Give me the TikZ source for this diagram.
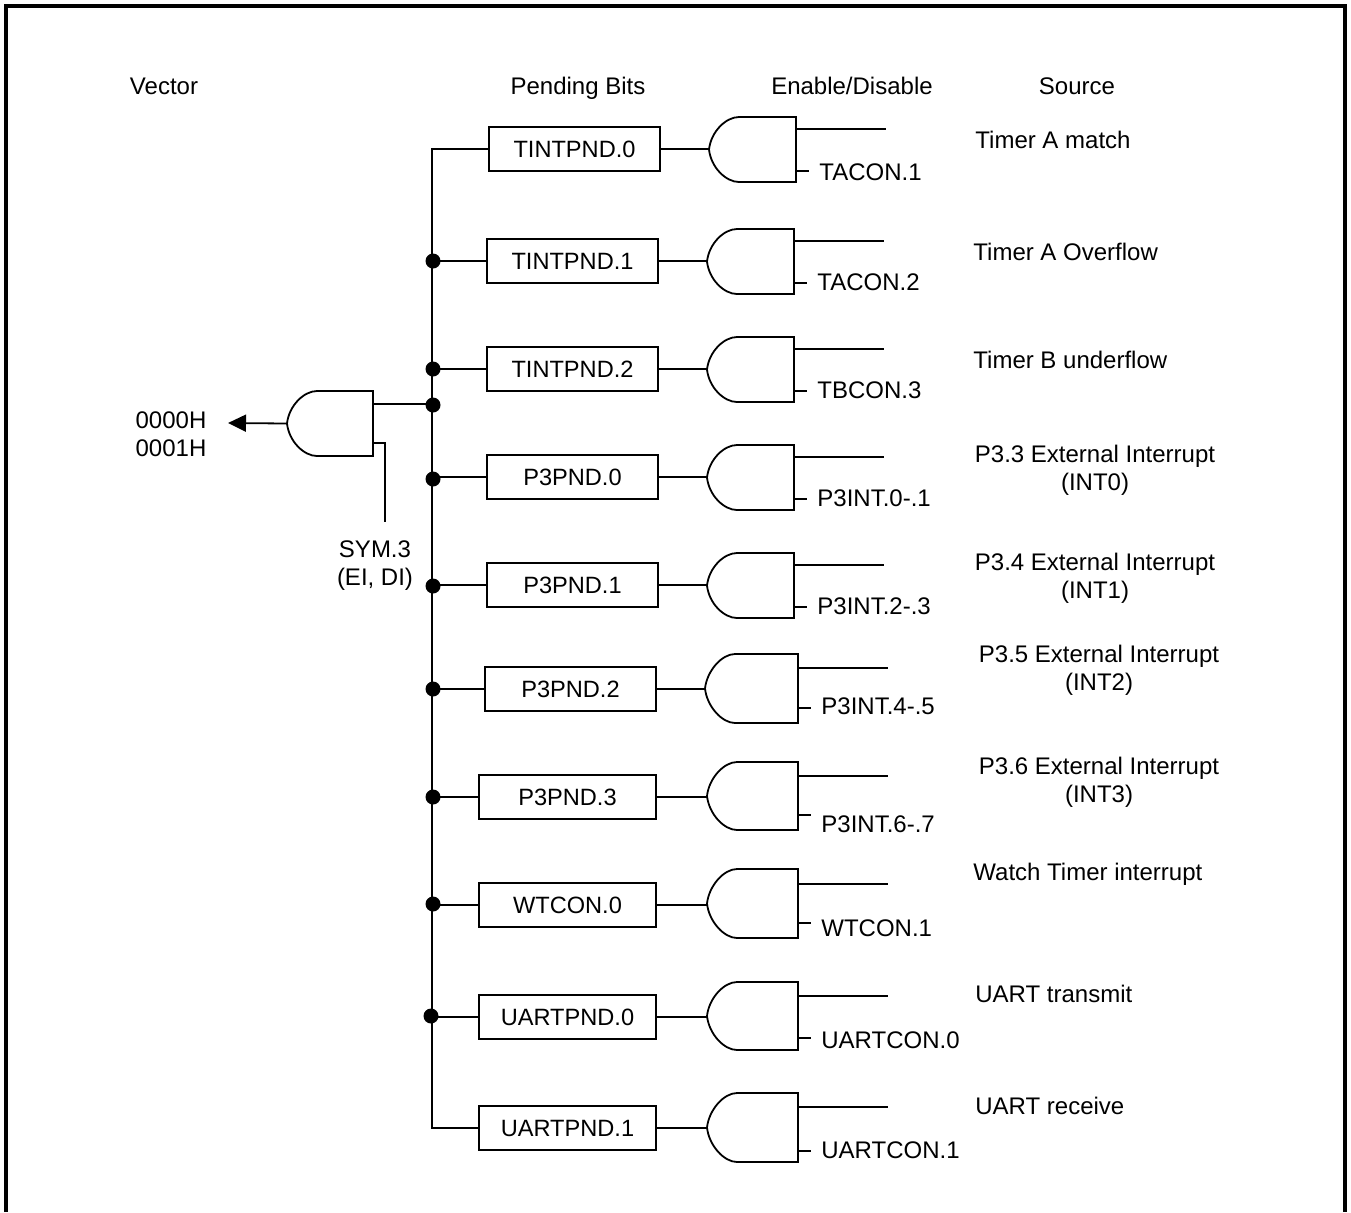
\documentclass[tikz,border=0pt]{standalone}
\usepackage{fontspec}
\setmainfont{Liberation Sans}
\usetikzlibrary{arrows.meta}
\tikzset{
  wire/.style={line width=0.9pt},
  pendbox/.style={draw, line width=0.9pt, minimum height=22pt, inner sep=0pt, outer sep=0pt, font=\fontsize{11.8}{14}\selectfont},
  lbl/.style={inner sep=0pt, anchor=west, xshift=-0.5pt},
  ctr/.style={inner sep=0pt, align=center},
  junct/.style={circle, fill=black, inner sep=0pt, minimum size=7.5pt}
}
% left, right, top, bottom, upper pin y, lower pin y
\newcommand{\andgate}[7]{
  \draw[wire] (#3,#4) -- ({#2+30},#4)
    .. controls ({#2+17},#4) and ({#2+2},{(#4+#5)/2-18}) .. (#2,{(#4+#5)/2})
    .. controls ({#2+2},{(#4+#5)/2+18}) and ({#2+17},#5) .. ({#2+30},#5)
    -- (#3,#5) -- cycle;
  \coordinate (#1-in) at (#2,{(#4+#5)/2});
  \coordinate (#1-a) at (#3,#6);
  \coordinate (#1-c) at (#3,#7);
  \coordinate (#1-aend) at ({#3+90},#6);
  \coordinate (#1-cend) at ({#3+13},#7);
}
\begin{document}
\begin{tikzpicture}[x=0.5pt, y=-0.5pt, font=\fontsize{12}{14}\selectfont]
  \useasboundingbox (0,0) rectangle (1351,1212);
  % frame is open at the bottom
  \draw[line width=1.6pt] (6,1212) -- (6,6) -- (1345,6) -- (1345,1212);

  \node[ctr] (hvec) at (164,86) {Vector};
  \node[ctr] (hpend) at (578,88) {Pending Bits};
  \node[ctr] (hen) at (852,86) {Enable/Disable};
  \node[ctr] (hsrc) at (1077,86) {Source};

  \node[pendbox, minimum width=85.5pt] (tint0) at (574.5,149) {TINTPND.0};
  \node[pendbox, minimum width=85.5pt] (tint1) at (572.5,261) {TINTPND.1};
  \node[pendbox, minimum width=85.5pt] (tint2) at (572.5,369) {TINTPND.2};
  \node[pendbox, minimum width=85.5pt] (p3pnd0) at (572.5,477) {P3PND.0};
  \node[pendbox, minimum width=85.5pt] (p3pnd1) at (572.5,585) {P3PND.1};
  \node[pendbox, minimum width=85.5pt] (p3pnd2) at (570.5,689) {P3PND.2};
  \node[pendbox, minimum width=88.5pt] (p3pnd3) at (567.5,797) {P3PND.3};
  \node[pendbox, minimum width=88.5pt] (wtcon0) at (567.5,905) {WTCON.0};
  \node[pendbox, minimum width=88.5pt] (uart0) at (567.5,1017) {UARTPND.0};
  \node[pendbox, minimum width=88.5pt] (uart1) at (567.5,1128) {UARTPND.1};

  \andgate{g0}{709}{796}{117}{182}{129}{171}
  \andgate{g1}{707}{794}{229}{294}{241}{283}
  \andgate{g2}{707}{794}{337}{402}{349}{391}
  \andgate{g3}{707}{794}{445}{510}{457}{499}
  \andgate{g4}{707}{794}{553}{618}{565}{607}
  \andgate{g5}{705}{798}{654}{723}{668}{708}
  \andgate{g6}{707}{798}{762}{830}{776}{815}
  \andgate{g7}{707}{798}{869}{938}{884}{923}
  \andgate{g8}{707}{798}{982}{1050}{996}{1038}
  \andgate{g9}{707}{798}{1093}{1162}{1107}{1151}
  \andgate{gmain}{287}{373}{391}{456}{404}{443}

  \foreach \b/\g in {tint0/g0, tint1/g1, tint2/g2, p3pnd0/g3, p3pnd1/g4, p3pnd2/g5, p3pnd3/g6, wtcon0/g7, uart0/g8, uart1/g9}
    \draw[wire] (\b.east) -- (\b.east -| \g-in);
  \foreach \g in {g0, g1, g2, g3, g4, g5, g6, g7, g8, g9}
    \draw[wire] (\g-a) -- (\g-aend) (\g-c) -- (\g-cend);

  % bus with its junctions
  \coordinate (bustop) at (432,149);
  \coordinate (busend) at (432,1128);
  \draw[wire] (tint0.west) -- (bustop) -- (busend) -- (uart1.west);
  \node[junct] (d1) at (433,261) {};
  \node[junct] (d2) at (433,369) {};
  \node[junct] (dmain) at (433,405) {};
  \node[junct] (d3) at (433,479) {};
  \node[junct] (d4) at (433,586) {};
  \node[junct] (d5) at (433,689) {};
  \node[junct] (d6) at (433,797) {};
  \node[junct] (d7) at (433,904) {};
  \node[junct] (d8) at (431,1016) {};
  \foreach \d/\b in {d1/tint1, d2/tint2, d3/p3pnd0, d4/p3pnd1, d5/p3pnd2, d6/p3pnd3, d7/wtcon0, d8/uart0}
    \draw[wire] (\b.west) -- (\b.west -| \d);

  % global enable gate
  \coordinate (vecend) at (228,423);
  \coordinate (symend) at (385,522);
  \draw[wire] (gmain-a) -- (gmain-a -| dmain);
  \draw[wire] (gmain-c) -| (symend);
  \draw[wire, -{Triangle[length=9pt,width=8.5pt]}] (gmain-in) -- (vecend);
  \node[ctr] (vec) at (171,434) {0000H\\[0pt]0001H};
  \node[ctr] (sym) at (375,566) {SYM.3\\[0pt](EI, DI)};

  \node[lbl] (l0) at (820,172) {TACON.1};
  \node[lbl] (l1) at (818,282) {TACON.2};
  \node[lbl] (l2) at (818,390) {TBCON.3};
  \node[lbl] (l3) at (818,498) {P3INT.0-.1};
  \node[lbl] (l4) at (818,606) {P3INT.2-.3};
  \node[lbl] (l5) at (822,706) {P3INT.4-.5};
  \node[lbl] (l6) at (822,824) {P3INT.6-.7};
  \node[lbl] (l7) at (822,928) {WTCON.1};
  \node[lbl] (l8) at (822,1040) {UARTCON.0};
  \node[lbl] (l9) at (822,1150) {UARTCON.1};

  \node[lbl] (s0) at (976,140) {Timer A match};
  \node[lbl] (s1) at (974,252) {Timer A Overflow};
  \node[lbl] (s2) at (974,360) {Timer B underflow};
  \node[ctr] (s3) at (1095,470) {P3.3 External Interrupt\\[0pt](INT0)};
  \node[ctr] (s4) at (1095,578) {P3.4 External Interrupt\\[0pt](INT1)};
  \node[ctr] (s5) at (1099,670) {P3.5 External Interrupt\\[0pt](INT2)};
  \node[ctr] (s6) at (1099,782) {P3.6 External Interrupt\\[0pt](INT3)};
  \node[lbl] (s7) at (974,874) {Watch Timer interrupt};
  \node[lbl] (s8) at (976,994) {UART transmit};
  \node[lbl] (s9) at (976,1106) {UART receive};
\end{tikzpicture}
\end{document}
